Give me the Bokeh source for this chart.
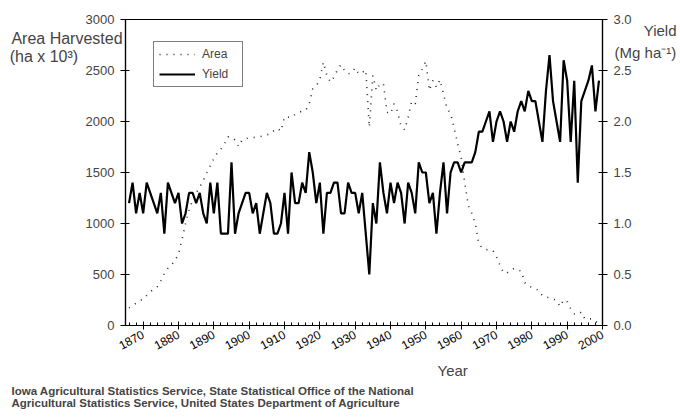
from bokeh.plotting import figure
from bokeh.models import (Range1d, LinearAxis, FixedTicker, PrintfTickFormatter,
                          Title, Legend, LegendItem, ColumnDataSource)
from bokeh.embed import file_html
from bokeh.resources import INLINE
import math

years = list(range(1866, 2000))

area = [173, 195, 219, 240, 261, 295, 330, 355, 382, 440,
        510, 560, 592, 637, 703, 843, 1000, 1130, 1230, 1300,
        1356, 1422, 1497, 1569, 1634, 1693, 1730, 1780, 1850, 1846,
        1820, 1755, 1820, 1830, 1840, 1843, 1846, 1850, 1859, 1870,
        1879, 1910, 1934, 1905, 2045, 2042, 2040, 2070, 2090, 2100,
        2108, 2170, 2320, 2350, 2410, 2582, 2451, 2386, 2435, 2507,
        2556, 2500, 2467, 2477, 2526, 2467, 2480, 2507, 1944, 2451,
        2304, 2369, 2369, 2092, 2075, 2173, 2098, 1951, 1918, 2042,
        2199, 2173, 2451, 2516, 2592, 2304, 2402, 2337, 2409, 2271,
        2124, 2082, 1938, 1781, 1650, 1400, 1180, 1100, 1000, 800,
        760, 745, 740, 735, 670, 590, 516, 516, 545, 560,
        545, 533, 420, 385, 376, 360, 343, 290, 280, 271,
        260, 245, 186, 250, 238, 163, 115, 108, 131, 65,
        65, 65, 40, 20]

yield_ = [1.2, 1.4, 1.1, 1.3, 1.1, 1.4, 1.3, 1.2, 1.1, 1.3,
          0.9, 1.4, 1.3, 1.2, 1.3, 1.0, 1.1, 1.3, 1.3, 1.2,
          1.3, 1.1, 1.0, 1.4, 1.1, 1.4, 0.9, 0.9, 0.9, 1.6,
          0.9, 1.1, 1.2, 1.3, 1.3, 1.1, 1.2, 0.9, 1.1, 1.3,
          1.2, 0.9, 0.9, 1.0, 1.3, 0.9, 1.5, 1.2, 1.2, 1.4,
          1.3, 1.7, 1.5, 1.2, 1.4, 0.9, 1.3, 1.3, 1.4, 1.4,
          1.1, 1.1, 1.4, 1.3, 1.3, 1.1, 1.3, 0.9, 0.5, 1.2,
          1.0, 1.6, 1.3, 1.1, 1.4, 1.2, 1.4, 1.3, 1.0, 1.4,
          1.3, 1.1, 1.6, 1.5, 1.5, 1.2, 1.3, 0.9, 1.3, 1.6,
          1.1, 1.5, 1.6, 1.6, 1.5, 1.6, 1.6, 1.6, 1.7, 1.9,
          1.9, 2.0, 2.1, 1.8, 2.0, 2.1, 2.0, 1.8, 2.0, 1.9,
          2.1, 2.2, 2.1, 2.3, 2.2, 2.2, 2.0, 1.8, 2.3, 2.65,
          2.2, 2.0, 1.8, 2.6, 2.4, 1.8, 2.4, 1.4, 2.2, 2.3,
          2.4, 2.55, 2.1, 2.4]

x_major = list(range(1870, 2001, 10))
x_minor = list(range(1866, 2001, 2))
left_ticks = [0, 500, 1000, 1500, 2000, 2500, 3000]
right_ticks = [0.0, 0.5, 1.0, 1.5, 2.0, 2.5, 3.0]

FONT = "Liberation Sans"
NB = "\u00a0"

p = figure(width=680, height=417, output_backend="svg", toolbar_location=None,
           x_range=Range1d(1865, 2000), y_range=Range1d(0, 3000),
           min_border_left=125, min_border_right=78, min_border_top=19,
           min_border_bottom=92)
p.extra_y_ranges = {"yield": Range1d(0, 3.0)}
p.grid.visible = False
p.outline_line_color = "black"
p.outline_line_width = 1.2
p.background_fill_color = "white"
p.border_fill_color = "white"

src = ColumnDataSource(dict(year=years, area=area, yld=yield_))
r_area = p.line("year", "area", source=src, line_color="#2a2a2a", line_width=1.6,
                line_dash="1 6")
r_yield = p.line("year", "yld", source=src, y_range_name="yield",
                 line_color="black", line_width=2.2)

# x axis
xa = p.xaxis[0]
xa.ticker = FixedTicker(ticks=x_major, minor_ticks=x_minor)
xa.major_label_orientation = math.radians(28)
xa.major_label_text_font = FONT
xa.major_label_text_font_size = "12px"
xa.major_label_text_color = "black"
xa.major_tick_in = 4
xa.major_tick_out = 4
xa.minor_tick_in = 3
xa.minor_tick_out = 0
xa.axis_line_width = 1.2
xa.major_label_standoff = 4

# left y axis
ya = p.yaxis[0]
ya.ticker = FixedTicker(ticks=left_ticks, minor_ticks=[])
ya.major_label_text_font = FONT
ya.major_label_text_font_size = "13px"
ya.major_tick_in = 4
ya.major_tick_out = 5
ya.axis_line_width = 1.2
ya.major_label_standoff = 6
ya.axis_label = "\n\n\nArea Harvested\n(ha x 10\u00b3)" + NB * 10
ya.axis_label_orientation = "horizontal"
ya.axis_label_text_font = FONT
ya.axis_label_text_font_size = "16px"
ya.axis_label_text_font_style = "normal"
ya.axis_label_text_line_height = 1.1
ya.axis_label_standoff = -40
ya.axis_label_align = "end"

# right y axis
ra = LinearAxis(y_range_name="yield",
                ticker=FixedTicker(ticks=right_ticks, minor_ticks=[]),
                formatter=PrintfTickFormatter(format="%.1f"))
ra.major_label_text_font = FONT
ra.major_label_text_font_size = "13px"
ra.major_tick_in = 4
ra.major_tick_out = 5
ra.axis_line_width = 1.2
ra.major_label_standoff = 6
ra.axis_label = "\n\n" + NB * 7 + "Yield\n(Mg ha\u207b\u00b9)"
ra.axis_label_orientation = "horizontal"
ra.axis_label_text_font = FONT
ra.axis_label_text_font_size = "15px"
ra.axis_label_text_font_style = "normal"
ra.axis_label_text_line_height = 1.3
ra.axis_label_standoff = -20
ra.axis_label_align = "end"
p.add_layout(ra, "right")

legend = Legend(items=[LegendItem(label="Area", renderers=[r_area]),
                       LegendItem(label="Yield", renderers=[r_yield])],
                location=(28, 238), border_line_color="black", border_line_width=1,
                label_text_font=FONT, label_text_font_size="12px",
                glyph_width=36, glyph_height=14, label_height=14, label_width=35,
                spacing=6, padding=5, margin=0, label_standoff=7)
p.add_layout(legend, "center")

t_year = Title(text="Year", align="left", offset=312, standoff=7,
               text_font=FONT, text_font_size="15px", text_font_style="normal")
p.add_layout(t_year, "below")
t_cap = Title(text="Iowa Agricultural Statistics Service, State Statistical Office of the National\n"
                   "Agricultural Statistics Service, United States Department of Agriculture",
              align="left", offset=-114, standoff=0,
              text_font=FONT, text_font_size="11.5px", text_font_style="bold",
              text_line_height=1.05)
p.add_layout(t_cap, "below")

open("out.html", "w").write(file_html(p, INLINE))
